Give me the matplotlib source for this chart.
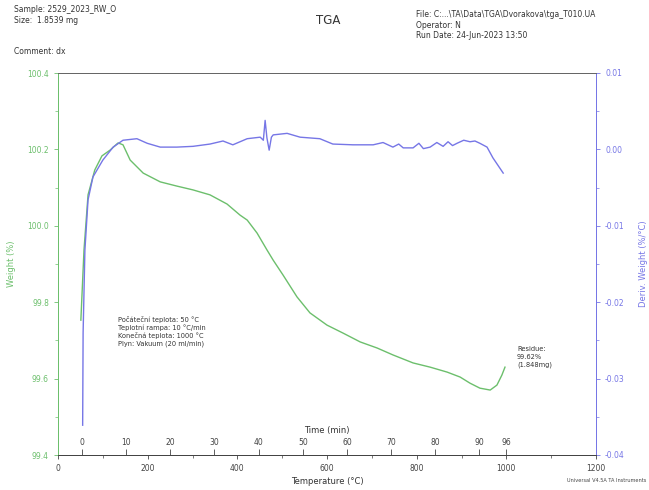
import numpy as np
import matplotlib.pyplot as plt
from matplotlib.ticker import AutoMinorLocator

# weight curve (temperature degC, weight %)
temp_w = [51, 58, 67, 82, 98, 116, 134, 145, 161, 190, 228, 265, 301, 339, 377, 406,
          422, 444, 466, 480, 502, 533, 562, 600, 636, 674, 712, 747, 792, 830, 868,
          897, 919, 941, 964, 979, 990, 997]
weight = [99.753, 99.937, 100.081, 100.146, 100.183, 100.198, 100.217, 100.212, 100.172,
          100.138, 100.115, 100.104, 100.094, 100.081, 100.057, 100.028, 100.015, 99.981,
          99.937, 99.910, 99.871, 99.814, 99.772, 99.740, 99.719, 99.696, 99.680, 99.662,
          99.641, 99.630, 99.617, 99.604, 99.588, 99.575, 99.570, 99.583, 99.609, 99.630]

# derivative curve (temperature degC, %/degC)
temp_d = [55, 56, 60, 67, 78, 100, 123, 145, 176, 199, 228, 265, 301, 339, 368, 390,
          422, 451, 458, 462, 466, 471, 476, 480, 511, 540, 584, 613, 658, 703, 725, 747,
          760, 770, 792, 805, 815, 830, 845, 859, 870, 880, 890, 905, 919, 930, 941, 957,
          970, 993]
deriv = [-0.0361, -0.0240, -0.0132, -0.0066, -0.0036, -0.0014, 0.0003, 0.0012, 0.0014,
         0.0008, 0.0003, 0.0003, 0.0004, 0.0007, 0.0011, 0.0006, 0.0014, 0.0016, 0.0012,
         0.0038, 0.0015, -0.0001, 0.0016, 0.0019, 0.0021, 0.0016, 0.0014, 0.0007, 0.0006,
         0.0006, 0.0009, 0.0003, 0.0007, 0.0002, 0.0002, 0.0008, 0.0001, 0.0003, 0.0009,
         0.0004, 0.0010, 0.0005, 0.0008, 0.0012, 0.0010, 0.0011, 0.0008, 0.0003, -0.0011,
         -0.0031]

temp_ticks = [0, 200, 400, 600, 800, 1000, 1200]
weight_ticks = [99.4, 99.6, 99.8, 100.0, 100.2, 100.4]
deriv_ticks = [-0.04, -0.03, -0.02, -0.01, 0.00, 0.01]
time_ticks = [0, 10, 20, 30, 40, 50, 60, 70, 80, 90, 96]

start_temp = 53.5
rate = 9.85

green = '#6cbf6c'
blue = '#7676e6'
fs = 5.5

fig = plt.figure(figsize=(6.49, 4.9), dpi=100)
ax = fig.add_axes([58 / 649, 35 / 490, 538 / 649, 382 / 490])
ax2 = ax.twinx()

ax.plot(temp_w, weight, color=green, lw=1)
ax2.plot(temp_d, deriv, color=blue, lw=1)

ax.set_xlim(0, 1200)
ax.set_ylim(99.4, 100.4)
ax2.set_ylim(-0.04, 0.01)
ax.set_xticks(temp_ticks)
ax.set_yticks(weight_ticks)
ax.set_yticklabels(['{:.1f}'.format(v) for v in weight_ticks])
ax2.set_yticks(deriv_ticks)
ax2.set_yticklabels(['{:.2f}'.format(v) for v in deriv_ticks])
ax.xaxis.set_minor_locator(AutoMinorLocator(2))
ax.yaxis.set_minor_locator(AutoMinorLocator(2))
ax2.yaxis.set_minor_locator(AutoMinorLocator(2))

ax.tick_params(axis='x', labelsize=fs, colors='#444444', length=3, width=0.6)
ax.tick_params(axis='x', which='minor', length=2, width=0.5, colors='#444444')
ax.tick_params(axis='y', labelsize=fs, colors=green, length=3, width=0.6)
ax.tick_params(axis='y', which='minor', length=2, width=0.5, colors=green)
ax2.tick_params(axis='y', labelsize=fs, colors=blue, length=3, width=0.6)
ax2.tick_params(axis='y', which='minor', length=2, width=0.5, colors=blue)

for a in (ax, ax2):
    a.spines['left'].set_color(green)
    a.spines['right'].set_color(blue)
    a.spines['top'].set_color('#666666')
    a.spines['bottom'].set_color('#444444')
    for s in a.spines.values():
        s.set_linewidth(0.7)

ax.set_xlabel('Temperature (°C)', fontsize=6, color='#333333', labelpad=3)
ax.set_ylabel('Weight (%)', fontsize=6, color=green, labelpad=8)
ax2.set_ylabel('Deriv. Weight (%/°C)', fontsize=6, color=blue, labelpad=10)

# time axis on the bottom spine, labels above it
secax = ax.secondary_xaxis(0, functions=(lambda t: (t - start_temp) / rate,
                                         lambda m: start_temp + rate * m))
secax.set_alignment('top')
secax.set_xticks(time_ticks)
secax.tick_params(labelsize=fs, colors='#444444', length=4, width=0.6, pad=2)
secax.set_xlabel('Time (min)', fontsize=6, color='#333333', labelpad=3)
secax.spines['top'].set_visible(False)
secax.spines['bottom'].set_visible(False)

ax.text(0.112, 0.365, 'Počáteční teplota: 50 °C\nTeplotní rampa: 10 °C/min\n'
        'Konečná teplota: 1000 °C\nPlyn: Vakuum (20 ml/min)',
        transform=ax.transAxes, fontsize=4.8, color='#333333', va='top',
        linespacing=1.25)
ax.text(0.853, 0.285, 'Residue:\n99.62%\n(1.848mg)', transform=ax.transAxes,
        fontsize=4.8, color='#333333', va='top', linespacing=1.3)

fig.text(14 / 649, 1 - 15 / 490, 'Sample: 2529_2023_RW_O\nSize:  1.8539 mg',
         fontsize=5.5, color='#333333', va='center', linespacing=1.2)
fig.text(14 / 649, 1 - 52 / 490, 'Comment: dx', fontsize=5.5, color='#333333',
         va='center')
fig.text(328 / 649, 1 - 20 / 490, 'TGA', fontsize=8.5, color='#333333',
         ha='center', va='center')
fig.text(416 / 649, 1 - 25 / 490,
         'File: C:...\\TA\\Data\\TGA\\Dvorakova\\tga_T010.UA\nOperator: N\n'
         'Run Date: 24-Jun-2023 13:50',
         fontsize=5.5, color='#333333', va='center', linespacing=1.2)
fig.text(0.995, 1 - 480 / 490, 'Universal V4.5A TA Instruments', fontsize=3.6,
         color='#444444', ha='right', va='center')

fig.savefig('out.png', dpi=100)
